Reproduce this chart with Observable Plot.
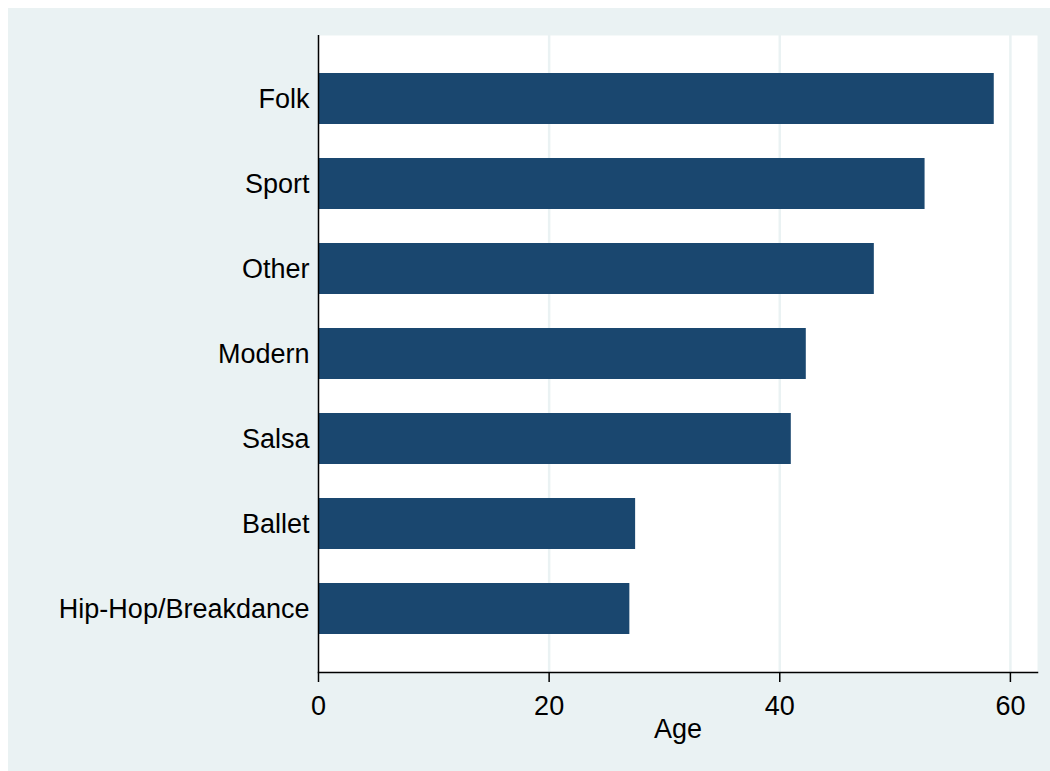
<!DOCTYPE html>
<html>
<head>
<meta charset="utf-8">
<script src="https://cdn.jsdelivr.net/npm/d3@7"></script>
<script src="https://cdn.jsdelivr.net/npm/@observablehq/plot@0.6"></script>
<style>
  html, body { margin: 0; padding: 0; background: #ffffff; overflow: hidden; width: 1050px; height: 771px; }
  #chart { position: absolute; left: 8px; top: 8px; right: 0; bottom: 0; background: #EAF2F3; }
  #chart svg { display: block; max-width: none; }
</style>
</head>
<body>
<div id="chart"></div>
<script>
const categories = ["Folk", "Sport", "Other", "Modern", "Salsa", "Ballet", "Hip-Hop/Breakdance"];
const ages = [58.6, 52.6, 48.2, 42.3, 41.0, 27.5, 27.0];
const xTicks = [0, 20, 40, 60];
const gridTicks = [20, 40, 60];
const xLabel = "Age";

const data = categories.map((c, i) => ({cat: c, age: ages[i]}));

const chart = Plot.plot({
  width: 1042,
  height: 763,
  marginLeft: 310,
  marginRight: 13,
  marginTop: 27,
  marginBottom: 99,
  style: {
    background: "#EAF2F3",
    fontFamily: "'Liberation Sans', Arial, Helvetica, sans-serif",
    fontSize: "27px",
    color: "#000000"
  },
  x: {domain: [0, 62.35]},
  y: {domain: categories, paddingInner: 0.4, paddingOuter: 0.43},
  marks: [
    Plot.frame({fill: "#ffffff", stroke: null}),
    Plot.ruleX(gridTicks, {stroke: "#EAF2F3", strokeWidth: 2.5}),
    Plot.barX(data, {x: "age", y: "cat", fill: "#1A476F"}),
    Plot.ruleX([0], {stroke: "#000000", strokeWidth: 1.5}),
    Plot.frame({anchor: "bottom", stroke: "#000000", strokeWidth: 1.5}),
    Plot.axisX({ticks: xTicks, tickSize: 10, tickPadding: 13, label: null, stroke: "#000000", strokeWidth: 1.5, fill: "#000000"}),
    Plot.axisY({tickSize: 0, tickPadding: 9, label: null, fill: "#000000"}),
    Plot.text([xLabel], {frameAnchor: "bottom", dy: 57, lineAnchor: "middle", fontSize: 27, fill: "#000000"})
  ]
});

document.getElementById("chart").appendChild(chart);
</script>
</body>
</html>
